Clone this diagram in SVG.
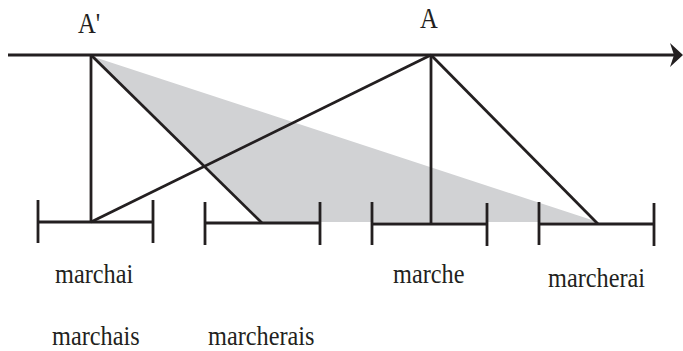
<svg xmlns="http://www.w3.org/2000/svg" width="683" height="351" viewBox="0 0 683 351">
<style>
.ln{stroke:#231f20;stroke-width:2.8;fill:none;stroke-linecap:butt}
.lbl{font-family:"Liberation Serif","Times New Roman",serif;fill:#231f20}
.w{font-size:27px}
.a{font-size:29px}
</style>
<rect width="683" height="351" fill="#fff"/>
<g id="shade">
<polygon points="91,56 262,222 598,222" fill="#d1d2d4"/>
</g>
<g id="connectors">
<line class="ln" x1="8" y1="55" x2="676" y2="55"/>
<path d="M683,55 L670,43 L674,55 L670,67 Z" fill="#231f20"/>
<line class="ln" x1="91" y1="55" x2="91" y2="222"/>
<line class="ln" x1="91" y1="222" x2="431" y2="55"/>
<line class="ln" x1="91" y1="55" x2="262" y2="223"/>
<line class="ln" x1="431" y1="55" x2="431" y2="224"/>
<line class="ln" x1="431" y1="55" x2="598" y2="224"/>
</g>
<g id="interval-marchai">
<line class="ln" x1="38" y1="200" x2="38" y2="243"/>
<line class="ln" x1="153" y1="200" x2="153" y2="243"/>
<line class="ln" x1="38" y1="222" x2="153" y2="222"/>
</g>
<g id="interval-marcherais">
<line class="ln" x1="205" y1="202" x2="205" y2="245"/>
<line class="ln" x1="320" y1="202" x2="320" y2="245"/>
<line class="ln" x1="205" y1="223" x2="320" y2="223"/>
</g>
<g id="interval-marche">
<line class="ln" x1="372" y1="202" x2="372" y2="245"/>
<line class="ln" x1="487" y1="203" x2="487" y2="246"/>
<line class="ln" x1="372" y1="224" x2="487" y2="224"/>
</g>
<g id="interval-marcherai">
<line class="ln" x1="539" y1="202" x2="539" y2="245"/>
<line class="ln" x1="654" y1="203" x2="654" y2="246"/>
<line class="ln" x1="539" y1="224" x2="654" y2="224"/>
</g>
<g id="labels">
<text class="lbl a" transform="translate(78,33) scale(0.85,1)">A'</text>
<text class="lbl a" transform="translate(420,28) scale(0.85,1)">A</text>
<text class="lbl w" transform="translate(55,283) scale(0.9,1)">marchai</text>
<text class="lbl w" transform="translate(393,283) scale(0.9,1)">marche</text>
<text class="lbl w" transform="translate(548,287) scale(0.9,1)">marcherai</text>
<text class="lbl w" transform="translate(52,345) scale(0.9,1)">marchais</text>
<text class="lbl w" transform="translate(208,345) scale(0.9,1)">marcherais</text>
</g>
</svg>
